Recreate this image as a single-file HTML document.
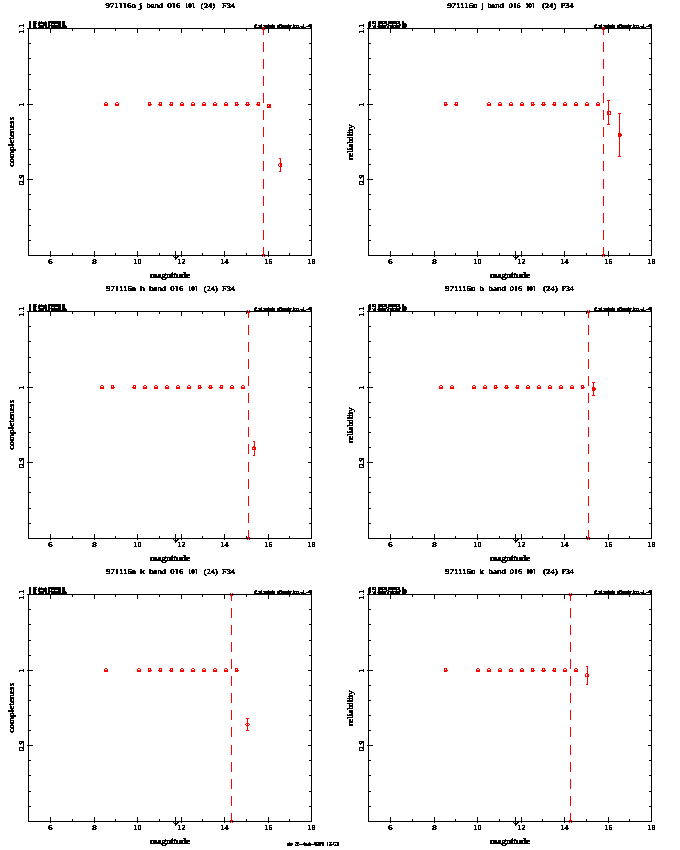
<!DOCTYPE html>
<html><head><meta charset="utf-8"><title>completeness / reliability</title>
<style>
html,body{margin:0;padding:0;background:#fff;overflow:hidden;}
svg{display:block;}
text{font-family:"Liberation Serif",serif;font-weight:normal;font-size:7.4px;fill:#000;stroke:#000;stroke-width:0.4px;text-rendering:geometricPrecision;}
text.tk{font-weight:bold;stroke-width:0.2px;}
text.lc{font-size:8.4px;stroke-width:0.6px;}
text.lcr{stroke-width:0.4px;}
</style></head><body>
<svg width="680" height="850" viewBox="0 0 680 850">
<defs>
<filter id="thr" x="0" y="0" width="680" height="850" filterUnits="userSpaceOnUse" color-interpolation-filters="sRGB">
<feComponentTransfer><feFuncA type="discrete" tableValues="0 0 1 1 1"/></feComponentTransfer>
</filter>
</defs>
<rect width="680" height="850" fill="#fff"/>
<g shape-rendering="crispEdges">
<g transform="translate(0 0)">
<path d="M27 28h285v1h-285zM28 255h284v1h-284zM28 28h1v228h-1zM311 28h1v228h-1zM50 29h1v4h-1zM50 251h1v6h-1zM72 29h1v2h-1zM72 253h1v2h-1zM94 29h1v4h-1zM94 251h1v6h-1zM115 29h1v2h-1zM115 253h1v2h-1zM137 29h1v4h-1zM137 251h1v6h-1zM159 29h1v2h-1zM159 253h1v2h-1zM181 29h1v4h-1zM181 251h1v6h-1zM202 29h1v2h-1zM202 253h1v2h-1zM224 29h1v4h-1zM224 251h1v6h-1zM246 29h1v2h-1zM246 253h1v2h-1zM268 29h1v4h-1zM268 251h1v6h-1zM289 29h1v2h-1zM289 253h1v2h-1zM29 43h2v1h-2zM309 43h2v1h-2zM29 58h2v1h-2zM309 58h2v1h-2zM29 74h2v1h-2zM309 74h2v1h-2zM29 89h2v1h-2zM309 89h2v1h-2zM27 104h6v1h-6zM308 104h3v1h-3zM29 119h2v1h-2zM309 119h2v1h-2zM29 134h2v1h-2zM309 134h2v1h-2zM29 149h2v1h-2zM309 149h2v1h-2zM29 164h2v1h-2zM309 164h2v1h-2zM27 179h6v1h-6zM308 179h3v1h-3zM29 194h2v1h-2zM309 194h2v1h-2zM29 209h2v1h-2zM309 209h2v1h-2zM29 225h2v1h-2zM309 225h2v1h-2zM29 240h2v1h-2zM309 240h2v1h-2zM175 251h1v9h-1zM173 256h1v1h-1zM177 256h2v1h-2zM174 257h4v1h-4zM175 258h2v1h-2zM29 21h2v1h-2zM33 21h4v1h-4zM39 21h1v1h-1zM41 21h1v1h-1zM45 21h1v1h-1zM48 21h13v1h-13zM62 21h3v1h-3zM29 22h2v1h-2zM33 22h3v1h-3zM38 22h9v1h-9zM48 22h13v1h-13zM62 22h3v1h-3zM29 23h2v1h-2zM33 23h4v1h-4zM38 23h9v1h-9zM48 23h2v1h-2zM51 23h10v1h-10zM62 23h3v1h-3zM29 24h2v1h-2zM33 24h3v1h-3zM38 24h2v1h-2zM43 24h4v1h-4zM48 24h2v1h-2zM51 24h1v1h-1zM54 24h1v1h-1zM58 24h3v1h-3zM62 24h3v1h-3zM29 25h2v1h-2zM33 25h3v1h-3zM38 25h9v1h-9zM48 25h13v1h-13zM62 25h4v1h-4zM29 26h2v1h-2zM33 26h3v1h-3zM39 26h5v1h-5zM45 26h2v1h-2zM48 26h2v1h-2zM51 26h10v1h-10zM62 26h5v1h-5zM29 27h2v1h-2zM33 27h4v1h-4zM38 27h6v1h-6zM45 27h3v1h-3zM48 27h2v1h-2zM51 27h16v1h-16zM255 24h2v1h-2zM261 24h1v1h-1zM268 24h1v1h-1zM272 24h1v1h-1zM279 24h3v1h-3zM288 24h1v1h-1zM293 24h1v1h-1zM303 24h1v1h-1zM309 24h3v1h-3zM254 25h3v1h-3zM258 25h4v1h-4zM263 25h12v1h-12zM277 25h15v1h-15zM293 25h6v1h-6zM303 25h1v1h-1zM308 25h4v1h-4zM254 26h2v1h-2zM259 26h3v1h-3zM264 26h11v1h-11zM277 26h3v1h-3zM281 26h10v1h-10zM293 26h2v1h-2zM296 26h1v1h-1zM298 26h1v1h-1zM300 26h4v1h-4zM306 26h6v1h-6zM254 27h21v1h-21zM277 27h14v1h-14zM292 27h8v1h-8zM301 27h5v1h-5zM310 27h2v1h-2z" fill="#000"/>
<path d="M263 28h1v7h-1zM263 42h1v10h-1zM263 59h1v10h-1zM263 76h1v10h-1zM263 93h1v10h-1zM263 110h1v10h-1zM263 127h1v10h-1zM263 144h1v10h-1zM263 161h1v10h-1zM263 179h1v10h-1zM263 196h1v10h-1zM263 213h1v10h-1zM263 230h1v10h-1zM263 247h1v9h-1zM262 27h1v1h-1zM264 27h1v1h-1zM262 29h1v1h-1zM264 29h1v1h-1zM263 28h1v1h-1zM262 254h1v1h-1zM264 254h1v1h-1zM262 256h1v1h-1zM264 256h1v1h-1zM263 255h1v1h-1zM105 102h2v1h-2zM104 103h1v1h-1zM107 103h1v1h-1zM104 104h4v1h-4zM104 105h4v1h-4zM116 102h2v1h-2zM115 103h1v1h-1zM118 103h1v1h-1zM115 104h4v1h-4zM115 105h4v1h-4zM148 102h3v1h-3zM148 103h1v1h-1zM150 103h1v1h-1zM148 104h4v1h-4zM148 105h3v1h-3zM159 102h3v1h-3zM159 103h1v1h-1zM161 103h1v1h-1zM158 104h4v1h-4zM159 105h3v1h-3zM170 102h3v1h-3zM170 103h1v1h-1zM172 103h1v1h-1zM169 104h4v1h-4zM170 105h3v1h-3zM181 102h2v1h-2zM180 103h1v1h-1zM183 103h1v1h-1zM180 104h4v1h-4zM180 105h4v1h-4zM192 102h2v1h-2zM191 103h1v1h-1zM194 103h1v1h-1zM191 104h4v1h-4zM191 105h4v1h-4zM203 102h2v1h-2zM202 103h1v1h-1zM205 103h1v1h-1zM202 104h4v1h-4zM202 105h4v1h-4zM214 102h2v1h-2zM213 103h1v1h-1zM216 103h1v1h-1zM213 104h4v1h-4zM213 105h4v1h-4zM225 102h2v1h-2zM224 103h1v1h-1zM227 103h1v1h-1zM224 104h4v1h-4zM224 105h4v1h-4zM235 102h3v1h-3zM235 103h1v1h-1zM237 103h1v1h-1zM235 104h4v1h-4zM235 105h3v1h-3zM246 102h3v1h-3zM246 103h1v1h-1zM248 103h1v1h-1zM245 104h5v1h-5zM246 105h3v1h-3zM257 102h3v1h-3zM257 103h1v1h-1zM259 103h1v1h-1zM256 104h4v1h-4zM257 105h3v1h-3zM267 104h4v1h-4zM267 105h1v1h-1zM269 105h2v1h-2zM267 106h4v1h-4zM267 107h4v1h-4zM280 158h1v14h-1zM279 158h1v1h-1zM279 171h1v1h-1zM279 163h3v1h-3zM278 164h1v1h-1zM280 164h2v1h-2zM278 165h1v1h-1zM280 165h2v1h-2zM279 166h3v1h-3z" fill="#ff0000"/>
</g>
<g transform="translate(340 0)">
<path d="M27 28h285v1h-285zM28 255h284v1h-284zM28 28h1v228h-1zM311 28h1v228h-1zM50 29h1v4h-1zM50 251h1v6h-1zM72 29h1v2h-1zM72 253h1v2h-1zM94 29h1v4h-1zM94 251h1v6h-1zM115 29h1v2h-1zM115 253h1v2h-1zM137 29h1v4h-1zM137 251h1v6h-1zM159 29h1v2h-1zM159 253h1v2h-1zM181 29h1v4h-1zM181 251h1v6h-1zM202 29h1v2h-1zM202 253h1v2h-1zM224 29h1v4h-1zM224 251h1v6h-1zM246 29h1v2h-1zM246 253h1v2h-1zM268 29h1v4h-1zM268 251h1v6h-1zM289 29h1v2h-1zM289 253h1v2h-1zM29 43h2v1h-2zM309 43h2v1h-2zM29 58h2v1h-2zM309 58h2v1h-2zM29 74h2v1h-2zM309 74h2v1h-2zM29 89h2v1h-2zM309 89h2v1h-2zM27 104h6v1h-6zM308 104h3v1h-3zM29 119h2v1h-2zM309 119h2v1h-2zM29 134h2v1h-2zM309 134h2v1h-2zM29 149h2v1h-2zM309 149h2v1h-2zM29 164h2v1h-2zM309 164h2v1h-2zM27 179h6v1h-6zM308 179h3v1h-3zM29 194h2v1h-2zM309 194h2v1h-2zM29 209h2v1h-2zM309 209h2v1h-2zM29 225h2v1h-2zM309 225h2v1h-2zM29 240h2v1h-2zM309 240h2v1h-2zM175 251h1v9h-1zM173 256h1v1h-1zM177 256h2v1h-2zM174 257h4v1h-4zM175 258h2v1h-2zM29 21h2v1h-2zM32 21h4v1h-4zM38 21h9v1h-9zM48 21h12v1h-12zM62 21h2v1h-2zM28 22h3v1h-3zM32 22h2v1h-2zM35 22h1v1h-1zM38 22h5v1h-5zM44 22h3v1h-3zM48 22h9v1h-9zM58 22h2v1h-2zM62 22h2v1h-2zM28 23h3v1h-3zM32 23h4v1h-4zM38 23h9v1h-9zM48 23h12v1h-12zM62 23h4v1h-4zM28 24h3v1h-3zM35 24h1v1h-1zM38 24h2v1h-2zM42 24h1v1h-1zM46 24h3v1h-3zM52 24h1v1h-1zM56 24h1v1h-1zM59 24h2v1h-2zM62 24h5v1h-5zM28 25h3v1h-3zM32 25h1v1h-1zM34 25h2v1h-2zM38 25h9v1h-9zM48 25h13v1h-13zM62 25h5v1h-5zM28 26h3v1h-3zM33 26h3v1h-3zM37 26h9v1h-9zM47 26h2v1h-2zM50 26h4v1h-4zM55 26h5v1h-5zM62 26h5v1h-5zM28 27h2v1h-2zM33 27h3v1h-3zM38 27h8v1h-8zM47 27h2v1h-2zM50 27h10v1h-10zM62 27h4v1h-4zM255 24h2v1h-2zM261 24h1v1h-1zM268 24h1v1h-1zM272 24h1v1h-1zM279 24h3v1h-3zM288 24h1v1h-1zM293 24h1v1h-1zM303 24h1v1h-1zM309 24h3v1h-3zM254 25h3v1h-3zM258 25h4v1h-4zM263 25h12v1h-12zM277 25h15v1h-15zM293 25h6v1h-6zM303 25h1v1h-1zM308 25h4v1h-4zM254 26h2v1h-2zM259 26h3v1h-3zM264 26h11v1h-11zM277 26h3v1h-3zM281 26h10v1h-10zM293 26h2v1h-2zM296 26h1v1h-1zM298 26h1v1h-1zM300 26h4v1h-4zM306 26h6v1h-6zM254 27h21v1h-21zM277 27h14v1h-14zM292 27h8v1h-8zM301 27h5v1h-5zM310 27h2v1h-2z" fill="#000"/>
<path d="M263 28h1v7h-1zM263 42h1v10h-1zM263 59h1v10h-1zM263 76h1v10h-1zM263 93h1v10h-1zM263 110h1v10h-1zM263 127h1v10h-1zM263 144h1v10h-1zM263 161h1v10h-1zM263 179h1v10h-1zM263 196h1v10h-1zM263 213h1v10h-1zM263 230h1v10h-1zM263 247h1v9h-1zM262 27h1v1h-1zM264 27h1v1h-1zM262 29h1v1h-1zM264 29h1v1h-1zM263 28h1v1h-1zM262 254h1v1h-1zM264 254h1v1h-1zM262 256h1v1h-1zM264 256h1v1h-1zM263 255h1v1h-1zM104 102h3v1h-3zM104 103h1v1h-1zM106 103h1v1h-1zM104 104h4v1h-4zM104 105h3v1h-3zM115 102h3v1h-3zM115 103h1v1h-1zM117 103h1v1h-1zM114 104h4v1h-4zM115 105h3v1h-3zM148 102h2v1h-2zM147 103h1v1h-1zM150 103h1v1h-1zM147 104h4v1h-4zM147 105h4v1h-4zM159 102h2v1h-2zM158 103h1v1h-1zM161 103h1v1h-1zM158 104h4v1h-4zM158 105h4v1h-4zM170 102h2v1h-2zM169 103h1v1h-1zM172 103h1v1h-1zM169 104h4v1h-4zM169 105h4v1h-4zM181 102h2v1h-2zM180 103h1v1h-1zM183 103h1v1h-1zM180 104h4v1h-4zM180 105h4v1h-4zM191 102h3v1h-3zM191 103h1v1h-1zM193 103h1v1h-1zM191 104h4v1h-4zM191 105h3v1h-3zM202 102h3v1h-3zM202 103h1v1h-1zM204 103h1v1h-1zM201 104h5v1h-5zM202 105h3v1h-3zM213 102h3v1h-3zM213 103h1v1h-1zM215 103h1v1h-1zM212 104h4v1h-4zM213 105h3v1h-3zM224 102h2v1h-2zM223 103h1v1h-1zM226 103h1v1h-1zM223 104h4v1h-4zM223 105h4v1h-4zM235 102h2v1h-2zM234 103h1v1h-1zM237 103h1v1h-1zM234 104h4v1h-4zM234 105h4v1h-4zM246 102h2v1h-2zM245 103h1v1h-1zM248 103h1v1h-1zM245 104h4v1h-4zM245 105h4v1h-4zM257 102h2v1h-2zM256 103h1v1h-1zM259 103h1v1h-1zM256 104h4v1h-4zM256 105h4v1h-4zM268 100h1v25h-1zM267 100h3v1h-3zM267 124h3v1h-3zM267 111h4v1h-4zM267 112h2v1h-2zM270 112h1v1h-1zM267 113h2v1h-2zM270 113h1v1h-1zM267 114h4v1h-4zM279 113h1v44h-1zM278 113h3v1h-3zM278 156h3v1h-3zM278 133h3v1h-3zM278 134h4v1h-4zM278 135h4v1h-4zM278 136h3v1h-3z" fill="#ff0000"/>
</g>
<g transform="translate(0 283)">
<path d="M27 28h285v1h-285zM28 255h284v1h-284zM28 28h1v228h-1zM311 28h1v228h-1zM50 29h1v4h-1zM50 251h1v6h-1zM72 29h1v2h-1zM72 253h1v2h-1zM94 29h1v4h-1zM94 251h1v6h-1zM115 29h1v2h-1zM115 253h1v2h-1zM137 29h1v4h-1zM137 251h1v6h-1zM159 29h1v2h-1zM159 253h1v2h-1zM181 29h1v4h-1zM181 251h1v6h-1zM202 29h1v2h-1zM202 253h1v2h-1zM224 29h1v4h-1zM224 251h1v6h-1zM246 29h1v2h-1zM246 253h1v2h-1zM268 29h1v4h-1zM268 251h1v6h-1zM289 29h1v2h-1zM289 253h1v2h-1zM29 43h2v1h-2zM309 43h2v1h-2zM29 58h2v1h-2zM309 58h2v1h-2zM29 74h2v1h-2zM309 74h2v1h-2zM29 89h2v1h-2zM309 89h2v1h-2zM27 104h6v1h-6zM308 104h3v1h-3zM29 119h2v1h-2zM309 119h2v1h-2zM29 134h2v1h-2zM309 134h2v1h-2zM29 149h2v1h-2zM309 149h2v1h-2zM29 164h2v1h-2zM309 164h2v1h-2zM27 179h6v1h-6zM308 179h3v1h-3zM29 194h2v1h-2zM309 194h2v1h-2zM29 209h2v1h-2zM309 209h2v1h-2zM29 225h2v1h-2zM309 225h2v1h-2zM29 240h2v1h-2zM309 240h2v1h-2zM175 251h1v9h-1zM173 256h1v1h-1zM177 256h2v1h-2zM174 257h4v1h-4zM175 258h2v1h-2zM29 21h2v1h-2zM33 21h4v1h-4zM39 21h1v1h-1zM41 21h1v1h-1zM45 21h1v1h-1zM48 21h13v1h-13zM62 21h3v1h-3zM29 22h2v1h-2zM33 22h3v1h-3zM38 22h9v1h-9zM48 22h13v1h-13zM62 22h3v1h-3zM29 23h2v1h-2zM33 23h4v1h-4zM38 23h9v1h-9zM48 23h2v1h-2zM51 23h10v1h-10zM62 23h3v1h-3zM29 24h2v1h-2zM33 24h3v1h-3zM38 24h2v1h-2zM43 24h4v1h-4zM48 24h2v1h-2zM51 24h1v1h-1zM54 24h1v1h-1zM58 24h3v1h-3zM62 24h3v1h-3zM29 25h2v1h-2zM33 25h3v1h-3zM38 25h9v1h-9zM48 25h13v1h-13zM62 25h4v1h-4zM29 26h2v1h-2zM33 26h3v1h-3zM39 26h5v1h-5zM45 26h2v1h-2zM48 26h2v1h-2zM51 26h10v1h-10zM62 26h5v1h-5zM29 27h2v1h-2zM33 27h4v1h-4zM38 27h6v1h-6zM45 27h3v1h-3zM48 27h2v1h-2zM51 27h16v1h-16zM255 24h2v1h-2zM261 24h1v1h-1zM268 24h1v1h-1zM272 24h1v1h-1zM279 24h3v1h-3zM288 24h1v1h-1zM293 24h1v1h-1zM303 24h1v1h-1zM309 24h3v1h-3zM254 25h3v1h-3zM258 25h4v1h-4zM263 25h12v1h-12zM277 25h15v1h-15zM293 25h6v1h-6zM303 25h1v1h-1zM308 25h4v1h-4zM254 26h2v1h-2zM259 26h3v1h-3zM264 26h11v1h-11zM277 26h3v1h-3zM281 26h10v1h-10zM293 26h2v1h-2zM296 26h1v1h-1zM298 26h1v1h-1zM300 26h4v1h-4zM306 26h6v1h-6zM254 27h21v1h-21zM277 27h14v1h-14zM292 27h8v1h-8zM301 27h5v1h-5zM310 27h2v1h-2z" fill="#000"/>
<path d="M248 28h1v7h-1zM248 42h1v10h-1zM248 59h1v10h-1zM248 76h1v10h-1zM248 93h1v10h-1zM248 110h1v10h-1zM248 127h1v10h-1zM248 144h1v10h-1zM248 161h1v10h-1zM248 179h1v10h-1zM248 196h1v10h-1zM248 213h1v10h-1zM248 230h1v10h-1zM248 247h1v9h-1zM247 27h1v1h-1zM249 27h1v1h-1zM247 29h1v1h-1zM249 29h1v1h-1zM248 28h1v1h-1zM247 254h1v1h-1zM249 254h1v1h-1zM247 256h1v1h-1zM249 256h1v1h-1zM248 255h1v1h-1zM101 102h2v1h-2zM100 103h1v1h-1zM103 103h1v1h-1zM100 104h4v1h-4zM100 105h4v1h-4zM111 102h3v1h-3zM111 103h1v1h-1zM113 103h1v1h-1zM111 104h4v1h-4zM111 105h3v1h-3zM133 102h3v1h-3zM133 103h1v1h-1zM135 103h1v1h-1zM132 104h4v1h-4zM133 105h3v1h-3zM144 102h2v1h-2zM143 103h1v1h-1zM146 103h1v1h-1zM143 104h4v1h-4zM143 105h4v1h-4zM155 102h2v1h-2zM154 103h1v1h-1zM157 103h1v1h-1zM154 104h4v1h-4zM154 105h4v1h-4zM166 102h2v1h-2zM165 103h1v1h-1zM168 103h1v1h-1zM165 104h4v1h-4zM165 105h4v1h-4zM177 102h2v1h-2zM176 103h1v1h-1zM179 103h1v1h-1zM176 104h4v1h-4zM176 105h4v1h-4zM188 102h2v1h-2zM187 103h1v1h-1zM190 103h1v1h-1zM187 104h4v1h-4zM187 105h4v1h-4zM198 102h3v1h-3zM198 103h1v1h-1zM200 103h1v1h-1zM198 104h4v1h-4zM198 105h3v1h-3zM209 102h3v1h-3zM209 103h1v1h-1zM211 103h1v1h-1zM208 104h5v1h-5zM209 105h3v1h-3zM220 102h3v1h-3zM220 103h1v1h-1zM222 103h1v1h-1zM219 104h4v1h-4zM220 105h3v1h-3zM231 102h2v1h-2zM230 103h1v1h-1zM233 103h1v1h-1zM230 104h4v1h-4zM230 105h4v1h-4zM242 102h2v1h-2zM241 103h1v1h-1zM244 103h1v1h-1zM241 104h4v1h-4zM241 105h4v1h-4zM254 158h1v15h-1zM253 158h1v1h-1zM253 172h1v1h-1zM253 163h2v1h-2zM252 164h4v1h-4zM252 165h1v1h-1zM254 165h2v1h-2zM252 166h4v1h-4z" fill="#ff0000"/>
</g>
<g transform="translate(340 283)">
<path d="M27 28h285v1h-285zM28 255h284v1h-284zM28 28h1v228h-1zM311 28h1v228h-1zM50 29h1v4h-1zM50 251h1v6h-1zM72 29h1v2h-1zM72 253h1v2h-1zM94 29h1v4h-1zM94 251h1v6h-1zM115 29h1v2h-1zM115 253h1v2h-1zM137 29h1v4h-1zM137 251h1v6h-1zM159 29h1v2h-1zM159 253h1v2h-1zM181 29h1v4h-1zM181 251h1v6h-1zM202 29h1v2h-1zM202 253h1v2h-1zM224 29h1v4h-1zM224 251h1v6h-1zM246 29h1v2h-1zM246 253h1v2h-1zM268 29h1v4h-1zM268 251h1v6h-1zM289 29h1v2h-1zM289 253h1v2h-1zM29 43h2v1h-2zM309 43h2v1h-2zM29 58h2v1h-2zM309 58h2v1h-2zM29 74h2v1h-2zM309 74h2v1h-2zM29 89h2v1h-2zM309 89h2v1h-2zM27 104h6v1h-6zM308 104h3v1h-3zM29 119h2v1h-2zM309 119h2v1h-2zM29 134h2v1h-2zM309 134h2v1h-2zM29 149h2v1h-2zM309 149h2v1h-2zM29 164h2v1h-2zM309 164h2v1h-2zM27 179h6v1h-6zM308 179h3v1h-3zM29 194h2v1h-2zM309 194h2v1h-2zM29 209h2v1h-2zM309 209h2v1h-2zM29 225h2v1h-2zM309 225h2v1h-2zM29 240h2v1h-2zM309 240h2v1h-2zM175 251h1v9h-1zM173 256h1v1h-1zM177 256h2v1h-2zM174 257h4v1h-4zM175 258h2v1h-2zM29 21h2v1h-2zM32 21h4v1h-4zM38 21h9v1h-9zM48 21h12v1h-12zM62 21h2v1h-2zM28 22h3v1h-3zM32 22h2v1h-2zM35 22h1v1h-1zM38 22h5v1h-5zM44 22h3v1h-3zM48 22h9v1h-9zM58 22h2v1h-2zM62 22h2v1h-2zM28 23h3v1h-3zM32 23h4v1h-4zM38 23h9v1h-9zM48 23h12v1h-12zM62 23h4v1h-4zM28 24h3v1h-3zM35 24h1v1h-1zM38 24h2v1h-2zM42 24h1v1h-1zM46 24h3v1h-3zM52 24h1v1h-1zM56 24h1v1h-1zM59 24h2v1h-2zM62 24h5v1h-5zM28 25h3v1h-3zM32 25h1v1h-1zM34 25h2v1h-2zM38 25h9v1h-9zM48 25h13v1h-13zM62 25h5v1h-5zM28 26h3v1h-3zM33 26h3v1h-3zM37 26h9v1h-9zM47 26h2v1h-2zM50 26h4v1h-4zM55 26h5v1h-5zM62 26h5v1h-5zM28 27h2v1h-2zM33 27h3v1h-3zM38 27h8v1h-8zM47 27h2v1h-2zM50 27h10v1h-10zM62 27h4v1h-4zM255 24h2v1h-2zM261 24h1v1h-1zM268 24h1v1h-1zM272 24h1v1h-1zM279 24h3v1h-3zM288 24h1v1h-1zM293 24h1v1h-1zM303 24h1v1h-1zM309 24h3v1h-3zM254 25h3v1h-3zM258 25h4v1h-4zM263 25h12v1h-12zM277 25h15v1h-15zM293 25h6v1h-6zM303 25h1v1h-1zM308 25h4v1h-4zM254 26h2v1h-2zM259 26h3v1h-3zM264 26h11v1h-11zM277 26h3v1h-3zM281 26h10v1h-10zM293 26h2v1h-2zM296 26h1v1h-1zM298 26h1v1h-1zM300 26h4v1h-4zM306 26h6v1h-6zM254 27h21v1h-21zM277 27h14v1h-14zM292 27h8v1h-8zM301 27h5v1h-5zM310 27h2v1h-2z" fill="#000"/>
<path d="M248 28h1v7h-1zM248 42h1v10h-1zM248 59h1v10h-1zM248 76h1v10h-1zM248 93h1v10h-1zM248 110h1v10h-1zM248 127h1v10h-1zM248 144h1v10h-1zM248 161h1v10h-1zM248 179h1v10h-1zM248 196h1v10h-1zM248 213h1v10h-1zM248 230h1v10h-1zM248 247h1v9h-1zM247 27h1v1h-1zM249 27h1v1h-1zM247 29h1v1h-1zM249 29h1v1h-1zM248 28h1v1h-1zM247 254h1v1h-1zM249 254h1v1h-1zM247 256h1v1h-1zM249 256h1v1h-1zM248 255h1v1h-1zM100 102h2v1h-2zM99 103h1v1h-1zM102 103h1v1h-1zM99 104h4v1h-4zM99 105h4v1h-4zM111 102h2v1h-2zM110 103h1v1h-1zM113 103h1v1h-1zM110 104h4v1h-4zM110 105h4v1h-4zM133 102h2v1h-2zM132 103h1v1h-1zM135 103h1v1h-1zM132 104h4v1h-4zM132 105h4v1h-4zM144 102h2v1h-2zM143 103h1v1h-1zM146 103h1v1h-1zM143 104h4v1h-4zM143 105h4v1h-4zM154 102h3v1h-3zM154 103h1v1h-1zM156 103h1v1h-1zM154 104h4v1h-4zM154 105h3v1h-3zM165 102h3v1h-3zM165 103h1v1h-1zM167 103h1v1h-1zM164 104h5v1h-5zM165 105h3v1h-3zM176 102h3v1h-3zM176 103h1v1h-1zM178 103h1v1h-1zM175 104h4v1h-4zM176 105h3v1h-3zM187 102h2v1h-2zM186 103h1v1h-1zM189 103h1v1h-1zM186 104h4v1h-4zM186 105h4v1h-4zM198 102h2v1h-2zM197 103h1v1h-1zM200 103h1v1h-1zM197 104h4v1h-4zM197 105h4v1h-4zM209 102h2v1h-2zM208 103h1v1h-1zM211 103h1v1h-1zM208 104h4v1h-4zM208 105h4v1h-4zM220 102h2v1h-2zM219 103h1v1h-1zM222 103h1v1h-1zM219 104h4v1h-4zM219 105h4v1h-4zM231 102h2v1h-2zM230 103h1v1h-1zM233 103h1v1h-1zM230 104h4v1h-4zM230 105h4v1h-4zM241 102h3v1h-3zM241 103h1v1h-1zM243 103h1v1h-1zM241 104h4v1h-4zM241 105h3v1h-3zM253 99h1v14h-1zM252 99h3v1h-3zM252 112h3v1h-3zM252 104h3v1h-3zM252 105h4v1h-4zM252 106h4v1h-4zM252 107h3v1h-3z" fill="#ff0000"/>
</g>
<g transform="translate(0 566)">
<path d="M27 28h285v1h-285zM28 255h284v1h-284zM28 28h1v228h-1zM311 28h1v228h-1zM50 29h1v4h-1zM50 251h1v6h-1zM72 29h1v2h-1zM72 253h1v2h-1zM94 29h1v4h-1zM94 251h1v6h-1zM115 29h1v2h-1zM115 253h1v2h-1zM137 29h1v4h-1zM137 251h1v6h-1zM159 29h1v2h-1zM159 253h1v2h-1zM181 29h1v4h-1zM181 251h1v6h-1zM202 29h1v2h-1zM202 253h1v2h-1zM224 29h1v4h-1zM224 251h1v6h-1zM246 29h1v2h-1zM246 253h1v2h-1zM268 29h1v4h-1zM268 251h1v6h-1zM289 29h1v2h-1zM289 253h1v2h-1zM29 43h2v1h-2zM309 43h2v1h-2zM29 58h2v1h-2zM309 58h2v1h-2zM29 74h2v1h-2zM309 74h2v1h-2zM29 89h2v1h-2zM309 89h2v1h-2zM27 104h6v1h-6zM308 104h3v1h-3zM29 119h2v1h-2zM309 119h2v1h-2zM29 134h2v1h-2zM309 134h2v1h-2zM29 149h2v1h-2zM309 149h2v1h-2zM29 164h2v1h-2zM309 164h2v1h-2zM27 179h6v1h-6zM308 179h3v1h-3zM29 194h2v1h-2zM309 194h2v1h-2zM29 209h2v1h-2zM309 209h2v1h-2zM29 225h2v1h-2zM309 225h2v1h-2zM29 240h2v1h-2zM309 240h2v1h-2zM175 251h1v9h-1zM173 256h1v1h-1zM177 256h2v1h-2zM174 257h4v1h-4zM175 258h2v1h-2zM29 21h2v1h-2zM33 21h4v1h-4zM39 21h1v1h-1zM41 21h1v1h-1zM45 21h1v1h-1zM48 21h13v1h-13zM62 21h3v1h-3zM29 22h2v1h-2zM33 22h3v1h-3zM38 22h9v1h-9zM48 22h13v1h-13zM62 22h3v1h-3zM29 23h2v1h-2zM33 23h4v1h-4zM38 23h9v1h-9zM48 23h2v1h-2zM51 23h10v1h-10zM62 23h3v1h-3zM29 24h2v1h-2zM33 24h3v1h-3zM38 24h2v1h-2zM43 24h4v1h-4zM48 24h2v1h-2zM51 24h1v1h-1zM54 24h1v1h-1zM58 24h3v1h-3zM62 24h3v1h-3zM29 25h2v1h-2zM33 25h3v1h-3zM38 25h9v1h-9zM48 25h13v1h-13zM62 25h4v1h-4zM29 26h2v1h-2zM33 26h3v1h-3zM39 26h5v1h-5zM45 26h2v1h-2zM48 26h2v1h-2zM51 26h10v1h-10zM62 26h5v1h-5zM29 27h2v1h-2zM33 27h4v1h-4zM38 27h6v1h-6zM45 27h3v1h-3zM48 27h2v1h-2zM51 27h16v1h-16zM255 24h2v1h-2zM261 24h1v1h-1zM268 24h1v1h-1zM272 24h1v1h-1zM279 24h3v1h-3zM288 24h1v1h-1zM293 24h1v1h-1zM303 24h1v1h-1zM309 24h3v1h-3zM254 25h3v1h-3zM258 25h4v1h-4zM263 25h12v1h-12zM277 25h15v1h-15zM293 25h6v1h-6zM303 25h1v1h-1zM308 25h4v1h-4zM254 26h2v1h-2zM259 26h3v1h-3zM264 26h11v1h-11zM277 26h3v1h-3zM281 26h10v1h-10zM293 26h2v1h-2zM296 26h1v1h-1zM298 26h1v1h-1zM300 26h4v1h-4zM306 26h6v1h-6zM254 27h21v1h-21zM277 27h14v1h-14zM292 27h8v1h-8zM301 27h5v1h-5zM310 27h2v1h-2z" fill="#000"/>
<path d="M231 28h1v7h-1zM231 42h1v10h-1zM231 59h1v10h-1zM231 76h1v10h-1zM231 93h1v10h-1zM231 110h1v10h-1zM231 127h1v10h-1zM231 144h1v10h-1zM231 161h1v10h-1zM231 179h1v10h-1zM231 196h1v10h-1zM231 213h1v10h-1zM231 230h1v10h-1zM231 247h1v9h-1zM230 27h1v1h-1zM232 27h1v1h-1zM230 29h1v1h-1zM232 29h1v1h-1zM231 28h1v1h-1zM230 254h1v1h-1zM232 254h1v1h-1zM230 256h1v1h-1zM232 256h1v1h-1zM231 255h1v1h-1zM105 102h2v1h-2zM104 103h1v1h-1zM107 103h1v1h-1zM104 104h4v1h-4zM104 105h4v1h-4zM138 102h2v1h-2zM137 103h1v1h-1zM140 103h1v1h-1zM137 104h4v1h-4zM137 105h4v1h-4zM148 102h3v1h-3zM148 103h1v1h-1zM150 103h1v1h-1zM148 104h4v1h-4zM148 105h3v1h-3zM159 102h3v1h-3zM159 103h1v1h-1zM161 103h1v1h-1zM158 104h4v1h-4zM159 105h3v1h-3zM170 102h3v1h-3zM170 103h1v1h-1zM172 103h1v1h-1zM169 104h4v1h-4zM170 105h3v1h-3zM181 102h2v1h-2zM180 103h1v1h-1zM183 103h1v1h-1zM180 104h4v1h-4zM180 105h4v1h-4zM192 102h2v1h-2zM191 103h1v1h-1zM194 103h1v1h-1zM191 104h4v1h-4zM191 105h4v1h-4zM203 102h2v1h-2zM202 103h1v1h-1zM205 103h1v1h-1zM202 104h4v1h-4zM202 105h4v1h-4zM214 102h2v1h-2zM213 103h1v1h-1zM216 103h1v1h-1zM213 104h4v1h-4zM213 105h4v1h-4zM225 102h2v1h-2zM224 103h1v1h-1zM227 103h1v1h-1zM224 104h4v1h-4zM224 105h4v1h-4zM235 102h3v1h-3zM235 103h1v1h-1zM237 103h1v1h-1zM235 104h4v1h-4zM235 105h3v1h-3zM247 152h1v13h-1zM246 152h3v1h-3zM246 164h3v1h-3zM246 157h3v1h-3zM245 158h1v1h-1zM247 158h1v1h-1zM249 158h1v1h-1zM246 159h3v1h-3z" fill="#ff0000"/>
</g>
<g transform="translate(340 566)">
<path d="M27 28h285v1h-285zM28 255h284v1h-284zM28 28h1v228h-1zM311 28h1v228h-1zM50 29h1v4h-1zM50 251h1v6h-1zM72 29h1v2h-1zM72 253h1v2h-1zM94 29h1v4h-1zM94 251h1v6h-1zM115 29h1v2h-1zM115 253h1v2h-1zM137 29h1v4h-1zM137 251h1v6h-1zM159 29h1v2h-1zM159 253h1v2h-1zM181 29h1v4h-1zM181 251h1v6h-1zM202 29h1v2h-1zM202 253h1v2h-1zM224 29h1v4h-1zM224 251h1v6h-1zM246 29h1v2h-1zM246 253h1v2h-1zM268 29h1v4h-1zM268 251h1v6h-1zM289 29h1v2h-1zM289 253h1v2h-1zM29 43h2v1h-2zM309 43h2v1h-2zM29 58h2v1h-2zM309 58h2v1h-2zM29 74h2v1h-2zM309 74h2v1h-2zM29 89h2v1h-2zM309 89h2v1h-2zM27 104h6v1h-6zM308 104h3v1h-3zM29 119h2v1h-2zM309 119h2v1h-2zM29 134h2v1h-2zM309 134h2v1h-2zM29 149h2v1h-2zM309 149h2v1h-2zM29 164h2v1h-2zM309 164h2v1h-2zM27 179h6v1h-6zM308 179h3v1h-3zM29 194h2v1h-2zM309 194h2v1h-2zM29 209h2v1h-2zM309 209h2v1h-2zM29 225h2v1h-2zM309 225h2v1h-2zM29 240h2v1h-2zM309 240h2v1h-2zM175 251h1v9h-1zM173 256h1v1h-1zM177 256h2v1h-2zM174 257h4v1h-4zM175 258h2v1h-2zM29 21h2v1h-2zM32 21h4v1h-4zM38 21h9v1h-9zM48 21h12v1h-12zM62 21h2v1h-2zM28 22h3v1h-3zM32 22h2v1h-2zM35 22h1v1h-1zM38 22h5v1h-5zM44 22h3v1h-3zM48 22h9v1h-9zM58 22h2v1h-2zM62 22h2v1h-2zM28 23h3v1h-3zM32 23h4v1h-4zM38 23h9v1h-9zM48 23h12v1h-12zM62 23h4v1h-4zM28 24h3v1h-3zM35 24h1v1h-1zM38 24h2v1h-2zM42 24h1v1h-1zM46 24h3v1h-3zM52 24h1v1h-1zM56 24h1v1h-1zM59 24h2v1h-2zM62 24h5v1h-5zM28 25h3v1h-3zM32 25h1v1h-1zM34 25h2v1h-2zM38 25h9v1h-9zM48 25h13v1h-13zM62 25h5v1h-5zM28 26h3v1h-3zM33 26h3v1h-3zM37 26h9v1h-9zM47 26h2v1h-2zM50 26h4v1h-4zM55 26h5v1h-5zM62 26h5v1h-5zM28 27h2v1h-2zM33 27h3v1h-3zM38 27h8v1h-8zM47 27h2v1h-2zM50 27h10v1h-10zM62 27h4v1h-4zM255 24h2v1h-2zM261 24h1v1h-1zM268 24h1v1h-1zM272 24h1v1h-1zM279 24h3v1h-3zM288 24h1v1h-1zM293 24h1v1h-1zM303 24h1v1h-1zM309 24h3v1h-3zM254 25h3v1h-3zM258 25h4v1h-4zM263 25h12v1h-12zM277 25h15v1h-15zM293 25h6v1h-6zM303 25h1v1h-1zM308 25h4v1h-4zM254 26h2v1h-2zM259 26h3v1h-3zM264 26h11v1h-11zM277 26h3v1h-3zM281 26h10v1h-10zM293 26h2v1h-2zM296 26h1v1h-1zM298 26h1v1h-1zM300 26h4v1h-4zM306 26h6v1h-6zM254 27h21v1h-21zM277 27h14v1h-14zM292 27h8v1h-8zM301 27h5v1h-5zM310 27h2v1h-2z" fill="#000"/>
<path d="M230 28h1v7h-1zM230 42h1v10h-1zM230 59h1v10h-1zM230 76h1v10h-1zM230 93h1v10h-1zM230 110h1v10h-1zM230 127h1v10h-1zM230 144h1v10h-1zM230 161h1v10h-1zM230 179h1v10h-1zM230 196h1v10h-1zM230 213h1v10h-1zM230 230h1v10h-1zM230 247h1v9h-1zM229 27h1v1h-1zM231 27h1v1h-1zM229 29h1v1h-1zM231 29h1v1h-1zM230 28h1v1h-1zM229 254h1v1h-1zM231 254h1v1h-1zM229 256h1v1h-1zM231 256h1v1h-1zM230 255h1v1h-1zM104 102h3v1h-3zM104 103h1v1h-1zM106 103h1v1h-1zM104 104h4v1h-4zM104 105h3v1h-3zM137 102h2v1h-2zM136 103h1v1h-1zM139 103h1v1h-1zM136 104h4v1h-4zM136 105h4v1h-4zM148 102h2v1h-2zM147 103h1v1h-1zM150 103h1v1h-1zM147 104h4v1h-4zM147 105h4v1h-4zM159 102h2v1h-2zM158 103h1v1h-1zM161 103h1v1h-1zM158 104h4v1h-4zM158 105h4v1h-4zM170 102h2v1h-2zM169 103h1v1h-1zM172 103h1v1h-1zM169 104h4v1h-4zM169 105h4v1h-4zM181 102h2v1h-2zM180 103h1v1h-1zM183 103h1v1h-1zM180 104h4v1h-4zM180 105h4v1h-4zM191 102h3v1h-3zM191 103h1v1h-1zM193 103h1v1h-1zM191 104h4v1h-4zM191 105h3v1h-3zM202 102h3v1h-3zM202 103h1v1h-1zM204 103h1v1h-1zM201 104h5v1h-5zM202 105h3v1h-3zM213 102h3v1h-3zM213 103h1v1h-1zM215 103h1v1h-1zM212 104h4v1h-4zM213 105h3v1h-3zM224 102h2v1h-2zM223 103h1v1h-1zM226 103h1v1h-1zM223 104h4v1h-4zM223 105h4v1h-4zM235 102h2v1h-2zM234 103h1v1h-1zM237 103h1v1h-1zM234 104h4v1h-4zM234 105h4v1h-4zM247 100h1v19h-1zM246 100h1v1h-1zM246 118h1v1h-1zM246 107h2v1h-2zM245 108h1v1h-1zM247 108h2v1h-2zM245 109h1v1h-1zM247 109h2v1h-2zM245 110h4v1h-4z" fill="#ff0000"/>
</g>
<path d="M289 842h1v1h-1zM295 842h4v1h-4zM304 842h1v1h-1zM309 842h1v1h-1zM314 842h10v1h-10zM327 842h1v1h-1zM329 842h3v1h-3zM333 842h6v1h-6zM287 843h6v1h-6zM296 843h3v1h-3zM303 843h4v1h-4zM308 843h3v1h-3zM314 843h3v1h-3zM318 843h6v1h-6zM327 843h1v1h-1zM330 843h1v1h-1zM333 843h1v1h-1zM337 843h2v1h-2zM287 844h6v1h-6zM295 844h1v1h-1zM297 844h1v1h-1zM299 844h22v1h-22zM322 844h2v1h-2zM327 844h1v1h-1zM329 844h5v1h-5zM335 844h1v1h-1zM337 844h2v1h-2zM287 845h5v1h-5zM295 845h4v1h-4zM304 845h3v1h-3zM307 845h4v1h-4zM315 845h6v1h-6zM322 845h2v1h-2zM327 845h1v1h-1zM329 845h3v1h-3zM334 845h5v1h-5z" fill="#000"/>
</g>
<g filter="url(#thr)">
<text x="105.4" y="8" textLength="30.6" lengthAdjust="spacingAndGlyphs">971116n</text><text x="139.1" y="8" textLength="3.3" lengthAdjust="spacingAndGlyphs">j</text><text x="146.5" y="8" textLength="16.5" lengthAdjust="spacingAndGlyphs">band</text><text x="167.2" y="8" textLength="13.2" lengthAdjust="spacingAndGlyphs">016</text><text x="184.9" y="8" textLength="10.4" lengthAdjust="spacingAndGlyphs">101</text><text x="200.8" y="8" textLength="14.4" lengthAdjust="spacingAndGlyphs">(24)</text><text x="222" y="8" textLength="13" lengthAdjust="spacingAndGlyphs">F34</text>
<text class="tk" x="48.1" y="264" textLength="4.8" lengthAdjust="spacingAndGlyphs">6</text>
<text class="tk" x="92.1" y="264" textLength="4.8" lengthAdjust="spacingAndGlyphs">8</text>
<text class="tk" x="133.5" y="264" textLength="8" lengthAdjust="spacingAndGlyphs">10</text>
<text class="tk" x="177.5" y="264" textLength="8" lengthAdjust="spacingAndGlyphs">12</text>
<text class="tk" x="220.5" y="264" textLength="8" lengthAdjust="spacingAndGlyphs">14</text>
<text class="tk" x="264.5" y="264" textLength="8" lengthAdjust="spacingAndGlyphs">16</text>
<text class="tk" x="307.5" y="264" textLength="8" lengthAdjust="spacingAndGlyphs">18</text>
<text transform="translate(24 33.6) rotate(-90)" textLength="10.2" lengthAdjust="spacingAndGlyphs">1.1</text>
<text transform="translate(24 106.6) rotate(-90)" textLength="4.2" lengthAdjust="spacingAndGlyphs">1</text>
<text transform="translate(24 184.9) rotate(-90)" textLength="10.4" lengthAdjust="spacingAndGlyphs">0.9</text>
<text class="lc" x="150" y="278" textLength="39.9" lengthAdjust="spacingAndGlyphs">magnitude</text>
<text class="lc lcr" transform="translate(14 167) rotate(-90)" textLength="50" lengthAdjust="spacingAndGlyphs">completeness</text>
<text x="447.2" y="8" textLength="30.3" lengthAdjust="spacingAndGlyphs">971116n</text><text x="481.2" y="8" textLength="2.6" lengthAdjust="spacingAndGlyphs">j</text><text x="487.4" y="8" textLength="16.4" lengthAdjust="spacingAndGlyphs">band</text><text x="509" y="8" textLength="11.7" lengthAdjust="spacingAndGlyphs">016</text><text x="525.4" y="8" textLength="9.7" lengthAdjust="spacingAndGlyphs">101</text><text x="541.9" y="8" textLength="14.4" lengthAdjust="spacingAndGlyphs">(24)</text><text x="560.4" y="8" textLength="13" lengthAdjust="spacingAndGlyphs">F34</text>
<text class="tk" x="388.1" y="264" textLength="4.8" lengthAdjust="spacingAndGlyphs">6</text>
<text class="tk" x="432.1" y="264" textLength="4.8" lengthAdjust="spacingAndGlyphs">8</text>
<text class="tk" x="473.5" y="264" textLength="8" lengthAdjust="spacingAndGlyphs">10</text>
<text class="tk" x="517.5" y="264" textLength="8" lengthAdjust="spacingAndGlyphs">12</text>
<text class="tk" x="560.5" y="264" textLength="8" lengthAdjust="spacingAndGlyphs">14</text>
<text class="tk" x="604.5" y="264" textLength="8" lengthAdjust="spacingAndGlyphs">16</text>
<text class="tk" x="647.5" y="264" textLength="8" lengthAdjust="spacingAndGlyphs">18</text>
<text transform="translate(364 33.6) rotate(-90)" textLength="10.2" lengthAdjust="spacingAndGlyphs">1.1</text>
<text transform="translate(364 106.6) rotate(-90)" textLength="4.2" lengthAdjust="spacingAndGlyphs">1</text>
<text transform="translate(364 184.9) rotate(-90)" textLength="10.4" lengthAdjust="spacingAndGlyphs">0.9</text>
<text class="lc" x="490" y="278" textLength="39.9" lengthAdjust="spacingAndGlyphs">magnitude</text>
<text class="lc lcr" transform="translate(353 160) rotate(-90)" textLength="36" lengthAdjust="spacingAndGlyphs">reliability</text>
<text x="106" y="291" textLength="30.2" lengthAdjust="spacingAndGlyphs">971116n</text><text x="140.1" y="291" textLength="5.1" lengthAdjust="spacingAndGlyphs">h</text><text x="149.2" y="291" textLength="17" lengthAdjust="spacingAndGlyphs">band</text><text x="170.3" y="291" textLength="12.9" lengthAdjust="spacingAndGlyphs">016</text><text x="187.9" y="291" textLength="10.2" lengthAdjust="spacingAndGlyphs">101</text><text x="203.8" y="291" textLength="14.1" lengthAdjust="spacingAndGlyphs">(24)</text><text x="222" y="291" textLength="13" lengthAdjust="spacingAndGlyphs">F34</text>
<text class="tk" x="48.1" y="547" textLength="4.8" lengthAdjust="spacingAndGlyphs">6</text>
<text class="tk" x="92.1" y="547" textLength="4.8" lengthAdjust="spacingAndGlyphs">8</text>
<text class="tk" x="133.5" y="547" textLength="8" lengthAdjust="spacingAndGlyphs">10</text>
<text class="tk" x="177.5" y="547" textLength="8" lengthAdjust="spacingAndGlyphs">12</text>
<text class="tk" x="220.5" y="547" textLength="8" lengthAdjust="spacingAndGlyphs">14</text>
<text class="tk" x="264.5" y="547" textLength="8" lengthAdjust="spacingAndGlyphs">16</text>
<text class="tk" x="307.5" y="547" textLength="8" lengthAdjust="spacingAndGlyphs">18</text>
<text transform="translate(24 316.6) rotate(-90)" textLength="10.2" lengthAdjust="spacingAndGlyphs">1.1</text>
<text transform="translate(24 389.6) rotate(-90)" textLength="4.2" lengthAdjust="spacingAndGlyphs">1</text>
<text transform="translate(24 467.9) rotate(-90)" textLength="10.4" lengthAdjust="spacingAndGlyphs">0.9</text>
<text class="lc" x="150" y="561" textLength="39.9" lengthAdjust="spacingAndGlyphs">magnitude</text>
<text class="lc lcr" transform="translate(14 450) rotate(-90)" textLength="50" lengthAdjust="spacingAndGlyphs">completeness</text>
<text x="445.1" y="291" textLength="30.3" lengthAdjust="spacingAndGlyphs">971116n</text><text x="479.5" y="291" textLength="4.5" lengthAdjust="spacingAndGlyphs">h</text><text x="488.4" y="291" textLength="17.5" lengthAdjust="spacingAndGlyphs">band</text><text x="510" y="291" textLength="11.9" lengthAdjust="spacingAndGlyphs">016</text><text x="526.5" y="291" textLength="9.2" lengthAdjust="spacingAndGlyphs">101</text><text x="542.9" y="291" textLength="14.9" lengthAdjust="spacingAndGlyphs">(24)</text><text x="561.5" y="291" textLength="12.3" lengthAdjust="spacingAndGlyphs">F34</text>
<text class="tk" x="388.1" y="547" textLength="4.8" lengthAdjust="spacingAndGlyphs">6</text>
<text class="tk" x="432.1" y="547" textLength="4.8" lengthAdjust="spacingAndGlyphs">8</text>
<text class="tk" x="473.5" y="547" textLength="8" lengthAdjust="spacingAndGlyphs">10</text>
<text class="tk" x="517.5" y="547" textLength="8" lengthAdjust="spacingAndGlyphs">12</text>
<text class="tk" x="560.5" y="547" textLength="8" lengthAdjust="spacingAndGlyphs">14</text>
<text class="tk" x="604.5" y="547" textLength="8" lengthAdjust="spacingAndGlyphs">16</text>
<text class="tk" x="647.5" y="547" textLength="8" lengthAdjust="spacingAndGlyphs">18</text>
<text transform="translate(364 316.6) rotate(-90)" textLength="10.2" lengthAdjust="spacingAndGlyphs">1.1</text>
<text transform="translate(364 389.6) rotate(-90)" textLength="4.2" lengthAdjust="spacingAndGlyphs">1</text>
<text transform="translate(364 467.9) rotate(-90)" textLength="10.4" lengthAdjust="spacingAndGlyphs">0.9</text>
<text class="lc" x="490" y="561" textLength="39.9" lengthAdjust="spacingAndGlyphs">magnitude</text>
<text class="lc lcr" transform="translate(353 443) rotate(-90)" textLength="36" lengthAdjust="spacingAndGlyphs">reliability</text>
<text x="106" y="574" textLength="30.2" lengthAdjust="spacingAndGlyphs">971116n</text><text x="140.1" y="574" textLength="5.1" lengthAdjust="spacingAndGlyphs">k</text><text x="149.2" y="574" textLength="17" lengthAdjust="spacingAndGlyphs">band</text><text x="170.3" y="574" textLength="12.9" lengthAdjust="spacingAndGlyphs">016</text><text x="187.9" y="574" textLength="10.2" lengthAdjust="spacingAndGlyphs">101</text><text x="203.8" y="574" textLength="14.1" lengthAdjust="spacingAndGlyphs">(24)</text><text x="222" y="574" textLength="13" lengthAdjust="spacingAndGlyphs">F34</text>
<text class="tk" x="48.1" y="830" textLength="4.8" lengthAdjust="spacingAndGlyphs">6</text>
<text class="tk" x="92.1" y="830" textLength="4.8" lengthAdjust="spacingAndGlyphs">8</text>
<text class="tk" x="133.5" y="830" textLength="8" lengthAdjust="spacingAndGlyphs">10</text>
<text class="tk" x="177.5" y="830" textLength="8" lengthAdjust="spacingAndGlyphs">12</text>
<text class="tk" x="220.5" y="830" textLength="8" lengthAdjust="spacingAndGlyphs">14</text>
<text class="tk" x="264.5" y="830" textLength="8" lengthAdjust="spacingAndGlyphs">16</text>
<text class="tk" x="307.5" y="830" textLength="8" lengthAdjust="spacingAndGlyphs">18</text>
<text transform="translate(24 599.6) rotate(-90)" textLength="10.2" lengthAdjust="spacingAndGlyphs">1.1</text>
<text transform="translate(24 672.6) rotate(-90)" textLength="4.2" lengthAdjust="spacingAndGlyphs">1</text>
<text transform="translate(24 750.9) rotate(-90)" textLength="10.4" lengthAdjust="spacingAndGlyphs">0.9</text>
<text class="lc" x="150" y="844" textLength="39.9" lengthAdjust="spacingAndGlyphs">magnitude</text>
<text class="lc lcr" transform="translate(14 733) rotate(-90)" textLength="50" lengthAdjust="spacingAndGlyphs">completeness</text>
<text x="445.1" y="574" textLength="30.3" lengthAdjust="spacingAndGlyphs">971116n</text><text x="479.5" y="574" textLength="4.7" lengthAdjust="spacingAndGlyphs">k</text><text x="488.4" y="574" textLength="17.5" lengthAdjust="spacingAndGlyphs">band</text><text x="510" y="574" textLength="11.9" lengthAdjust="spacingAndGlyphs">016</text><text x="526.5" y="574" textLength="9.2" lengthAdjust="spacingAndGlyphs">101</text><text x="542.9" y="574" textLength="14.9" lengthAdjust="spacingAndGlyphs">(24)</text><text x="561.5" y="574" textLength="12.3" lengthAdjust="spacingAndGlyphs">F34</text>
<text class="tk" x="388.1" y="830" textLength="4.8" lengthAdjust="spacingAndGlyphs">6</text>
<text class="tk" x="432.1" y="830" textLength="4.8" lengthAdjust="spacingAndGlyphs">8</text>
<text class="tk" x="473.5" y="830" textLength="8" lengthAdjust="spacingAndGlyphs">10</text>
<text class="tk" x="517.5" y="830" textLength="8" lengthAdjust="spacingAndGlyphs">12</text>
<text class="tk" x="560.5" y="830" textLength="8" lengthAdjust="spacingAndGlyphs">14</text>
<text class="tk" x="604.5" y="830" textLength="8" lengthAdjust="spacingAndGlyphs">16</text>
<text class="tk" x="647.5" y="830" textLength="8" lengthAdjust="spacingAndGlyphs">18</text>
<text transform="translate(364 599.6) rotate(-90)" textLength="10.2" lengthAdjust="spacingAndGlyphs">1.1</text>
<text transform="translate(364 672.6) rotate(-90)" textLength="4.2" lengthAdjust="spacingAndGlyphs">1</text>
<text transform="translate(364 750.9) rotate(-90)" textLength="10.4" lengthAdjust="spacingAndGlyphs">0.9</text>
<text class="lc" x="490" y="844" textLength="39.9" lengthAdjust="spacingAndGlyphs">magnitude</text>
<text class="lc lcr" transform="translate(353 726) rotate(-90)" textLength="36" lengthAdjust="spacingAndGlyphs">reliability</text>

</g>
</svg>
</body></html>
